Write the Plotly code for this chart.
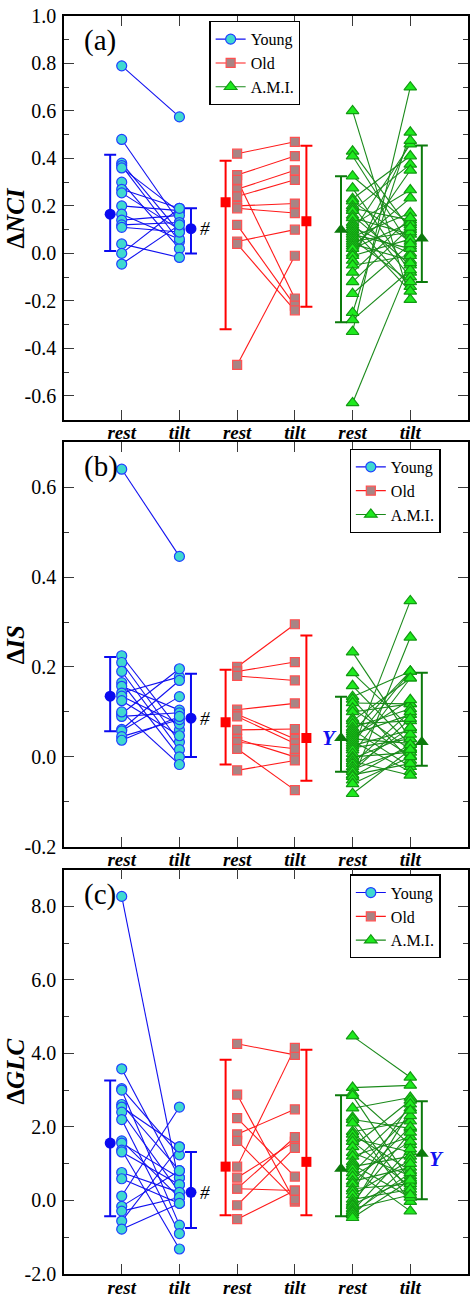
import plotly.graph_objects as go

# ---------------- data ----------------
categories = ["rest", "tilt", "rest", "tilt", "rest", "tilt"]
groups = ["Young", "Old", "A.M.I."]
panel_labels = ["(a)", "(b)", "(c)"]
y_titles = ["<b>Δ<i>NCI</i></b>", "<b>Δ<i>IS</i></b>", "<b>Δ<i>GLC</i></b>"]

# Panel (a)  ΔNCI
young_rest_a = [0.79, 0.48, 0.38, 0.37, 0.36, 0.30, 0.27, 0.255, 0.20, 0.165, 0.14, 0.12, 0.11, 0.04, 0.00, -0.045]
young_tilt_a = [0.575, 0.13, 0.09, 0.05, 0.175, 0.02, 0.19, 0.10, 0.18, 0.06, 0.16, 0.13, 0.09, -0.017, 0.19, 0.12]
old_rest_a = [0.42, 0.33, 0.31, 0.27, 0.24, 0.20, 0.19, 0.12, 0.05, 0.04, -0.47]
old_tilt_a = [0.47, 0.41, -0.19, 0.35, 0.31, 0.21, 0.17, -0.22, 0.10, -0.24, -0.01]
ami_rest_a = [0.60, 0.43, 0.41, 0.325, 0.275, 0.23, 0.22, 0.20, 0.19, 0.18, 0.16, 0.15, 0.13, 0.12, 0.11, 0.10, 0.09, 0.08,
              0.07, 0.06, 0.05, 0.04, 0.03, 0.02, 0.00, -0.01, -0.03, -0.05, -0.08, -0.12, -0.17, -0.25, -0.28, -0.33, -0.63]
ami_tilt_a = [-0.195, 0.10, 0.03, 0.12, -0.08, 0.41, 0.05, -0.10, 0.14, 0.375, -0.05, 0.08, -0.14, 0.267, 0.00, -0.16, 0.46, 0.02,
              0.17, -0.12, 0.09, -0.03, 0.233, 0.13, 0.35, 0.06, 0.475, -0.01, 0.15, 0.11, 0.04, 0.51, -0.07, 0.70, -0.04]
# means with lower / upper error limits: [rest, tilt]
young_mean_a = [0.165, 0.104]; young_lo_a = [0.01, 0.0]; young_hi_a = [0.415, 0.19]
old_mean_a = [0.215, 0.135]; old_lo_a = [-0.32, -0.225]; old_hi_a = [0.39, 0.453]
ami_mean_a = [0.10, 0.063]; ami_lo_a = [-0.29, -0.12]; ami_hi_a = [0.325, 0.455]

# Panel (b)  ΔIS
young_rest_b = [0.64, 0.225, 0.21, 0.19, 0.165, 0.157, 0.142, 0.135, 0.125, 0.096, 0.09, 0.061, 0.058, 0.045, 0.037, 0.10]
young_tilt_b = [0.446, 0.06, 0.033, 0.016, 0.0, 0.104, 0.178, 0.073, 0.047, 0.196, 0.098, 0.17, 0.134, 0.083, 0.09, -0.017]
old_rest_b = [0.20, 0.19, 0.18, 0.105, 0.095, 0.09, 0.06, 0.04, 0.033, 0.018, -0.03]
old_tilt_b = [0.295, 0.211, 0.17, 0.119, 0.04, 0.03, 0.062, 0.0, 0.018, -0.074, -0.008]
ami_rest_b = [0.233, 0.187, 0.158, 0.134, 0.128, 0.12, 0.108, 0.10, 0.085, 0.08, 0.073, 0.065, 0.06, 0.055, 0.05, 0.045, 0.04,
              0.035, 0.03, 0.025, 0.02, 0.015, 0.007, 0.0, -0.004, -0.01, -0.015, -0.022, -0.028, -0.033, -0.04, -0.044,
              -0.052, -0.06, -0.082]
ami_tilt_b = [0.04, 0.065, 0.027, 0.19, -0.008, 0.118, 0.016, 0.118, 0.002, 0.175, 0.08, 0.107, -0.022, 0.19, 0.094, 0.127,
              0.03, -0.033, 0.19, 0.06, 0.04, 0.347, 0.175, 0.01, 0.05, -0.041, 0.10, 0.065, 0.02, 0.085, -0.015, 0.027,
              0.266, 0.0, 0.016]
young_mean_b = [0.135, 0.086]; young_lo_b = [0.057, 0.0]; young_hi_b = [0.222, 0.185]
old_mean_b = [0.077, 0.042]; old_lo_b = [-0.017, -0.053]; old_hi_b = [0.194, 0.27]
ami_mean_b = [0.042, 0.033]; ami_lo_b = [-0.033, -0.02]; ami_hi_b = [0.134, 0.187]

# Panel (c)  ΔGLC
young_rest_c = [8.27, 3.58, 3.04, 3.0, 2.61, 2.54, 2.4, 2.2, 1.62, 1.56, 1.37, 1.32, 0.76, 0.59, 0.12, -0.16, -0.29, -0.56, -0.78]
young_tilt_c = [0.43, 0.62, 1.24, -0.67, 0.81, 1.46, 0.22, -0.9, 0.08, 0.62, -1.32, 0.43, 0.22, -0.08, 2.54, 0.81, 0.08, 1.46, -0.08]
old_rest_c = [4.26, 2.88, 2.24, 1.8, 1.62, 0.92, 0.62, 0.32, 0.32, -0.13, -0.51]
old_tilt_c = [3.96, -0.03, 0.65, 2.48, 0.03, 4.15, 1.6, 1.72, 0.27, 1.43, 0.27]
ami_rest_c = [4.47, 3.07, 2.91, 2.85, 2.51, 2.26, 2.2, 2.1, 1.87, 1.8, 1.69, 1.6, 1.46, 1.3, 1.2, 1.05, 0.98, 0.92, 0.85,
              0.75, 0.65, 0.52, 0.45, 0.32, 0.25, 0.15, 0.03, -0.05, -0.11, -0.15, -0.22, -0.28, -0.33, -0.4, -0.47]
ami_tilt_c = [3.35, 3.13, 1.51, 0.52, 2.8, 0.22, 1.96, -0.03, 2.16, 0.81, 1.32, 0.38, 2.72, 0.67, 1.73, 2.51, 0.08, 1.2,
              -0.29, 2.3, 1.6, 0.9, 2.0, 0.45, 2.62, 1.1, 0.3, 1.85, 0.6, 2.45, 0.15, 1.4, 0.75, 1.0, 0.55]
young_mean_c = [1.56, 0.22]; young_lo_c = [-0.43, -0.75]; young_hi_c = [3.26, 1.32]
old_mean_c = [0.92, 1.05]; old_lo_c = [-0.4, -0.4]; old_hi_c = [3.83, 4.1]
ami_mean_c = [0.86, 1.27]; ami_lo_c = [-0.43, 0.03]; ami_hi_c = [2.86, 2.7]

# axis tick values / labels
ytick_vals_a = [-0.6, -0.4, -0.2, 0.0, 0.2, 0.4, 0.6, 0.8, 1.0]
ytick_text_a = ["-0.6", "-0.4", "-0.2", "0.0", "0.2", "0.4", "0.6", "0.8", "1.0"]
ytick_vals_b = [-0.2, 0.0, 0.2, 0.4, 0.6]
ytick_text_b = ["-0.2", "0.0", "0.2", "0.4", "0.6"]
ytick_vals_c = [-2, 0, 2, 4, 6, 8]
ytick_text_c = ["-2.0", "0.0", "2.0", "4.0", "6.0", "8.0"]

# ---------------- styles ----------------
FONT = "Liberation Serif"
styles = [
    dict(symbol="circle", size=10, fill="#3FD9CF", edge="#1F3FFF", line="#1010F0", mean="#0A0AF0", msym="circle", msize=11),
    dict(symbol="square", size=9, fill="#A88484", edge="#FF5050", line="#FF1A1A", mean="#FF0000", msym="square", msize=10),
    dict(symbol="triangle-up", size=11, fill="#1EEA1E", edge="#129A12", line="#1A8A1A", mean="#0B7A0B", msym="triangle-up", msize=12),
]
MEAN_OFF = 0.2

panels = [
    dict(data=[(young_rest_a, young_tilt_a), (old_rest_a, old_tilt_a), (ami_rest_a, ami_tilt_a)],
         means=[(young_mean_a, young_lo_a, young_hi_a), (old_mean_a, old_lo_a, old_hi_a), (ami_mean_a, ami_lo_a, ami_hi_a)],
         yrange=[-0.7, 1.0], tv=ytick_vals_a, tt=ytick_text_a, minor=0.1, domain=[0.6792, 1.0]),
    dict(data=[(young_rest_b, young_tilt_b), (old_rest_b, old_tilt_b), (ami_rest_b, ami_tilt_b)],
         means=[(young_mean_b, young_lo_b, young_hi_b), (old_mean_b, old_lo_b, old_hi_b), (ami_mean_b, ami_lo_b, ami_hi_b)],
         yrange=[-0.2, 0.7], tv=ytick_vals_b, tt=ytick_text_b, minor=0.1, domain=[0.3396, 0.6612]),
    dict(data=[(young_rest_c, young_tilt_c), (old_rest_c, old_tilt_c), (ami_rest_c, ami_tilt_c)],
         means=[(young_mean_c, young_lo_c, young_hi_c), (old_mean_c, old_lo_c, old_hi_c), (ami_mean_c, ami_lo_c, ami_hi_c)],
         yrange=[-2.0, 9.0], tv=ytick_vals_c, tt=ytick_text_c, minor=1.0, domain=[0.0, 0.3215]),
]

legend_pos = [(0.36, 0.996), (0.707, 0.656), (0.707, 0.3176)]

fig = go.Figure()
layout = dict(
    width=475, height=1303,
    margin=dict(l=64, r=5, t=9, b=22),
    paper_bgcolor="white", plot_bgcolor="white",
    font=dict(family=FONT, color="black"),
    annotations=[],
)

for p, panel in enumerate(panels):
    sfx = "" if p == 0 else str(p + 1)
    xa, ya = "x" + sfx, "y" + sfx
    leg = "legend" if p == 0 else "legend" + str(p + 1)
    for g, (rest, tilt) in enumerate(panel["data"]):
        st = styles[g]
        xr, xt = 2 * g + 1, 2 * g + 2
        xs, ys = [], []
        for r, t in zip(rest, tilt):
            xs += [xr, xt, None]
            ys += [r, t, None]
        fig.add_trace(go.Scatter(
            x=xs, y=ys, mode="lines+markers", name=groups[g], xaxis=xa, yaxis=ya,
            line=dict(color=st["line"], width=1.1),
            marker=dict(symbol=st["symbol"], size=st["size"], color=st["fill"],
                        line=dict(color=st["edge"], width=1.2)),
            showlegend=True, legend=leg, connectgaps=False,
        ))
    for g, (mean, lo, hi) in enumerate(panel["means"]):
        st = styles[g]
        xm = [2 * g + 1 - MEAN_OFF, 2 * g + 2 + MEAN_OFF]
        fig.add_trace(go.Scatter(
            x=xm, y=mean, mode="markers", xaxis=xa, yaxis=ya, showlegend=False,
            marker=dict(symbol=st["msym"], size=st["msize"], color=st["mean"], line=dict(width=0)),
            error_y=dict(type="data", symmetric=False,
                         array=[h - m for h, m in zip(hi, mean)],
                         arrayminus=[m - l for m, l in zip(mean, lo)],
                         color=st["mean"], thickness=2, width=6),
        ))

    axis_common = dict(showline=True, linecolor="black", linewidth=1.6, mirror="allticks",
                       ticks="inside", tickcolor="#3a3a3a", tickwidth=1.4, ticklen=10,
                       showgrid=False, zeroline=False, ticklabeloverflow="allow")
    layout["xaxis" + sfx] = dict(
        axis_common, range=[0, 7], tickvals=[1, 2, 3, 4, 5, 6],
        ticktext=["<b><i>" + c + "</i></b>" for c in categories],
        tickfont=dict(family=FONT, size=19, color="black"), anchor=ya, ticklabelstandoff=-5,
    )
    layout["yaxis" + sfx] = dict(
        axis_common, range=panel["yrange"], domain=panel["domain"], tickvals=panel["tv"], ticktext=panel["tt"],
        tickfont=dict(family=FONT, size=20, color="black"), anchor=xa,
        minor=dict(ticks="inside", ticklen=5, tickwidth=1.2, tickcolor="#3a3a3a", dtick=panel["minor"], showgrid=False),
        ticklabelstandoff=2,
    )
    lx, ly = legend_pos[p]
    layout[leg] = dict(x=lx, y=ly, xanchor="left", yanchor="top", xref="paper", yref="paper",
                       bgcolor="white", bordercolor="black", borderwidth=1.2,
                       font=dict(family=FONT, size=16, color="black"), tracegroupgap=0,
                       itemwidth=30)

    dom = panel["domain"]
    # y-axis title
    layout["annotations"].append(dict(
        text=y_titles[p], xref="paper", yref="paper", x=-0.1576, y=(dom[0] + dom[1]) / 2,
        xanchor="left", yanchor="middle", textangle=-90, showarrow=False,
        font=dict(family=FONT, size=25, color="black")))
    # panel label
    layout["annotations"].append(dict(
        text=panel_labels[p], xref=xa + " domain", yref=ya + " domain", x=0.045, y=0.985,
        xanchor="left", yanchor="top", showarrow=False, font=dict(family=FONT, size=29, color="black")))
    # '#' next to Young tilt mean
    ymean_young = panel["means"][0][0][1]
    layout["annotations"].append(dict(
        text="<i>#</i>", xref=xa, yref=ya, x=2 + 0.45, y=ymean_young, xanchor="center", yanchor="middle",
        showarrow=False, font=dict(family=FONT, size=19, color="black")))

# 'Y' marks
layout["annotations"].append(dict(
    text="<b><i>Y</i></b>", xref="x2", yref="y2", x=5 - 0.4, y=ami_mean_b[0], xanchor="center", yanchor="middle",
    showarrow=False, font=dict(family=FONT, size=21, color="#1010F0")))
layout["annotations"].append(dict(
    text="<b><i>Y</i></b>", xref="x3", yref="y3", x=6 + 0.45, y=ami_mean_c[1], yshift=-5, xanchor="center",
    yanchor="middle", showarrow=False, font=dict(family=FONT, size=21, color="#1010F0")))

fig.update_layout(**layout)
fig.write_html("out.html")
